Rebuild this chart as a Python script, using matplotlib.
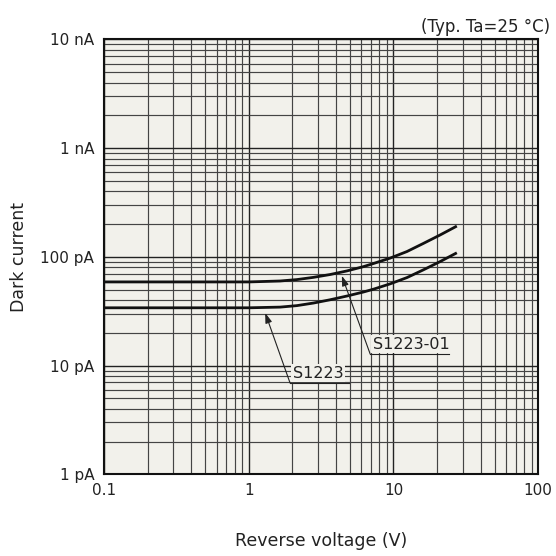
import numpy as np
import matplotlib.pyplot as plt
from matplotlib.ticker import FixedLocator, LogLocator, NullFormatter

# reverse voltage (V) and dark current (pA)
voltage = [0.1, 1.0, 1.65, 2.15, 2.8, 3.65, 4.76, 6.2, 7.3, 9.5, 12.4, 16.1, 21.0, 27.4]
s1223_01 = [58.8, 58.8, 60.0, 61.8, 64.8, 68.8, 74.2, 81.3, 87.0, 97.5, 112, 133, 159, 192]
s1223 = [34.0, 34.0, 34.5, 35.6, 37.6, 40.3, 43.6, 47.5, 50.5, 56.5, 64.5, 76, 90.5, 109]

x_ticks = [0.1, 1, 10, 100]
x_labels = ['0.1', '1', '10', '100']
y_ticks = [1, 10, 100, 1000, 10000]
y_labels = ['1 pA', '10 pA', '100 pA', '1 nA', '10 nA']

bg = '#f2f1eb'

fig = plt.figure(figsize=(5.56, 5.56), dpi=100)
ax = fig.add_axes([0.187, 0.147, 0.781, 0.782])
ax.set_facecolor(bg)

ax.plot(voltage, s1223_01, color='#111111', linewidth=2.0, solid_capstyle='butt',
        solid_joinstyle='round', zorder=4)
ax.plot(voltage, s1223, color='#111111', linewidth=2.0, solid_capstyle='butt',
        solid_joinstyle='round', zorder=4)

ax.set_xscale('log')
ax.set_yscale('log')
ax.set_xlim(0.1, 100)
ax.set_ylim(1, 10000)

ax.xaxis.set_major_locator(FixedLocator(x_ticks))
ax.set_xticklabels(x_labels)
ax.yaxis.set_major_locator(FixedLocator(y_ticks))
ax.set_yticklabels(y_labels)
ax.xaxis.set_minor_locator(LogLocator(base=10, subs=np.arange(2, 10)))
ax.yaxis.set_minor_locator(LogLocator(base=10, subs=np.arange(2, 10)))
ax.xaxis.set_minor_formatter(NullFormatter())
ax.yaxis.set_minor_formatter(NullFormatter())

ax.grid(True, which='major', color='#222222', linewidth=1.0)
ax.grid(True, which='minor', color='#444444', linewidth=0.85)
ax.tick_params(which='both', length=0, labelsize=11, colors='#222222')
ax.tick_params(axis='y', pad=7)
ax.tick_params(axis='x', pad=6)
for s in ax.spines.values():
    s.set_linewidth(1.5)
    s.set_color('#111111')

ax.set_xlabel('Reverse voltage (V)', fontsize=12.5, labelpad=25, color='#222222')
ax.set_ylabel('Dark current', fontsize=12.5, labelpad=9, color='#222222')

fig.text(0.989, 0.951, '(Typ. Ta=25 \u00b0C)', ha='right', va='center', fontsize=12, color='#222222')

# label callouts: arrow tip on curve, label corner, end of underline
labels = ['S1223-01', 'S1223']
tips = [(4.4, 67), (1.30, 30.5)]
corners = [(6.9, 12.8), (1.93, 6.92)]
line_ends = [24.2, 4.93]
for lab, tip, corner, end in zip(labels, tips, corners, line_ends):
    ax.annotate('', xy=tip, xytext=corner,
                arrowprops=dict(arrowstyle='-|>,head_length=0.6,head_width=0.2',
                                color='#222222', lw=0.8, shrinkA=0, shrinkB=0),
                zorder=5)
    ax.plot([corner[0], end], [corner[1], corner[1]], color='#222222', lw=0.8, zorder=5)
    ax.annotate(lab, xy=corner, xytext=(2, 1.5), textcoords='offset points',
                ha='left', va='bottom', fontsize=11.5, color='#222222', zorder=5,
                bbox=dict(facecolor=bg, edgecolor='none', pad=1.0))

fig.savefig('out.png', dpi=100)
